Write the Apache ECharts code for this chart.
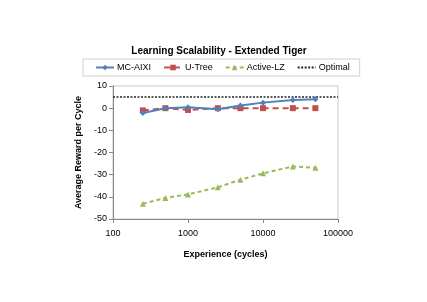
<!DOCTYPE html>
<html><head><meta charset="utf-8">
<script src="https://cdn.jsdelivr.net/npm/echarts@6/dist/echarts.min.js"></script>
<style>html,body{margin:0;padding:0;background:#fff}#c{width:427px;height:302px}</style>
</head><body><div id="c"></div>
<script>
var experience = [250, 500, 1000, 2500, 5000, 10000, 25000, 50000];
var mcAixi = [-2.2, 0, 0.4, -0.5, 1.2, 2.5, 3.7, 4.0];
var uTree = [-1.0, 0, -0.8, 0, 0, 0, 0, 0];
var activeLZ = [-43.1, -40.5, -38.9, -35.7, -32.3, -29.4, -26.3, -26.9];
var optimalX = [100, 100000];
var optimalY = [5, 5];
var yTicks = [10, 0, -10, -20, -30, -40, -50];

function pairs(xs, ys){ return xs.map(function(x,i){return [x, ys[i]];}); }
var FONT = 'Liberation Sans';
var chart = echarts.init(document.getElementById('c'), null, {renderer:'canvas'});
chart.setOption({
  animation:false,
  textStyle:{fontFamily:FONT},
  title:{text:'Learning Scalability - Extended Tiger', left:214, textAlign:'center', top:41,
    textStyle:{fontSize:10, fontWeight:'bold', color:'#000', fontFamily:FONT}},
  legend:{left:83, top:59, width:266, itemGap:12, itemWidth:18, itemHeight:7,
    borderColor:'#d0d0d0', borderWidth:1, padding:[4,10,4,12],
    textStyle:{fontSize:9, color:'#000', fontFamily:FONT, padding:[0,0,0,-2]},
    data:['MC-AIXI','U-Tree','Active-LZ',{name:'Optimal', itemStyle:{opacity:0}}]},
  grid:{left:113, right:89, top:86, bottom:83, show:true, borderColor:'#c8c8c8', borderWidth:1},
  xAxis:{type:'log', logBase:10, min:100, max:100000,
    name:'Experience (cycles)', nameLocation:'middle', nameGap:31,
    nameTextStyle:{fontSize:9, fontWeight:'bold', color:'#000'},
    axisLine:{onZero:false, lineStyle:{color:'#888'}}, axisTick:{show:true, length:4, lineStyle:{color:'#888'}},
    axisLabel:{fontSize:9, color:'#000', margin:10, formatter:function(v){return String(Math.round(v));}},
    splitLine:{show:false}, minorTick:{show:false}},
  yAxis:{type:'value', min:-50, max:10, interval:10,
    name:'Average Reward per Cycle', nameLocation:'middle', nameGap:21, nameRotate:90,
    nameTextStyle:{fontSize:9, fontWeight:'bold', color:'#000'},
    axisLine:{show:true, onZero:false, lineStyle:{color:'#888'}}, axisTick:{show:true, length:4, lineStyle:{color:'#888'}},
    axisLabel:{fontSize:9, color:'#000', margin:6, formatter:function(v){return yTicks.indexOf(v)>=0? String(v):'';}},
    splitLine:{show:false}},
  series:[
    {name:'MC-AIXI', type:'line', data:pairs(experience, mcAixi), symbol:'diamond', symbolSize:6,
      lineStyle:{color:'#4F81BD', width:2}, itemStyle:{color:'#4F81BD'}, z:4},
    {name:'U-Tree', type:'line', data:pairs(experience, uTree), symbol:'rect', symbolSize:6,
      lineStyle:{color:'#C0504D', width:2, type:[6,4]}, itemStyle:{color:'#C0504D'}, z:3},
    {name:'Active-LZ', type:'line', data:pairs(experience, activeLZ), symbol:'triangle', symbolSize:6,
      lineStyle:{color:'#9BBB59', width:2, type:[4,3]}, itemStyle:{color:'#9BBB59'}, z:3},
    {name:'Optimal', type:'line', data:pairs(optimalX, optimalY), symbol:'none',
      lineStyle:{color:'#222', width:1.5, type:[2,1.5]}, itemStyle:{color:'#222'}, z:2}
  ]
});
</script></body></html>
